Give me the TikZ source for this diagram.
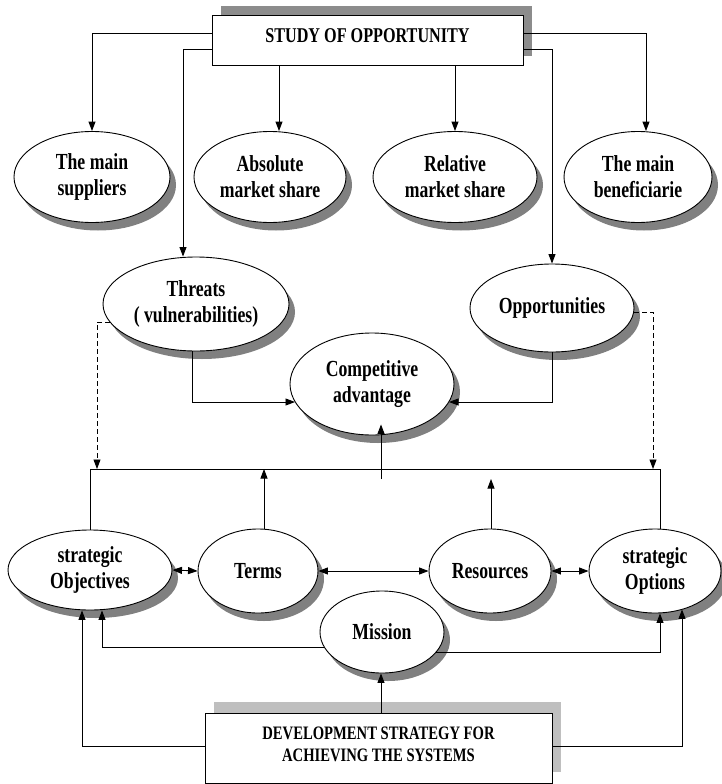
\documentclass[tikz,border=0pt]{standalone}
\usepackage{fontspec}
\setmainfont{Liberation Serif}[FakeStretch=0.77]
\usetikzlibrary{shapes.geometric,arrows.meta,shadows,calc}
\begin{document}
\begin{tikzpicture}[x=1pt,y=-1pt,
  every node/.style={align=center,text=black},
  lab/.style={font=\bfseries\fontsize{23}{26}\selectfont},
  ell/.style={ellipse,draw,line width=0.9pt,fill=white,inner sep=0pt,lab,
    drop shadow={shadow xshift=6pt,shadow yshift=-8pt,fill=black!50,opacity=1}},
  topbox/.style={rectangle,draw,line width=0.9pt,fill=white,
    font=\bfseries\fontsize{21}{24}\selectfont,
    drop shadow={shadow xshift=9pt,shadow yshift=9pt,fill=black!45,opacity=1}},
  botbox/.style={rectangle,draw,line width=0.9pt,fill=white,
    font=\bfseries\fontsize{19}{22}\selectfont,
    drop shadow={shadow xshift=9pt,shadow yshift=11pt,fill=black!25,opacity=1}},
  conn/.style={line width=0.9pt},
  arr/.style={conn,-{Triangle[length=9.5pt,width=7pt]}},
  darr/.style={conn,{Triangle[length=9.5pt,width=7pt]}-{Triangle[length=9.5pt,width=7pt]}},
  dsh/.style={arr,dashed,dash pattern=on 5pt off 3pt}]
\useasboundingbox (0,0) rectangle (721,784);

% boxes
\node[topbox,minimum width=311pt,minimum height=50pt,text depth=8pt] (top) at (367.5,40) {STUDY OF OPPORTUNITY};
\node[botbox,minimum width=347pt,minimum height=70pt,text depth=8pt] (bot) at (378.5,748) {DEVELOPMENT STRATEGY FOR\\ACHIEVING THE SYSTEMS};

% ellipses
\node[ell,minimum width=156pt,minimum height=91pt] (sup) at (92,177) {The main\\suppliers};
\node[ell,minimum width=152pt,minimum height=91pt] (abs) at (270,177) {Absolute\\market share};
\node[ell,minimum width=164pt,minimum height=91pt] (rel) at (455,177) {Relative\\market share};
\node[ell,minimum width=148pt,minimum height=91pt] (ben) at (638,177) {The main\\beneficiarie};
\node[ell,minimum width=186pt,minimum height=94pt] (thr) at (196,304) {Threats\\( vulnerabilities)};
\node[ell,minimum width=164pt,minimum height=88pt] (opp) at (552,308) {Opportunities};
\node[ell,minimum width=164pt,minimum height=102pt] (comp) at (372,384) {Competitive\\advantage};
\node[ell,minimum width=164pt,minimum height=80pt] (obj) at (90,570) {strategic\\Objectives};
\node[ell,minimum width=120pt,minimum height=84pt] (terms) at (258,571) {Terms};
\node[ell,minimum width=122pt,minimum height=84pt] (res) at (490,571) {Resources};
\node[ell,minimum width=132pt,minimum height=84pt] (opt) at (655,571) {strategic\\Options};
\node[ell,minimum width=124pt,minimum height=82pt] (mis) at (382,632) {Mission};

% helper coordinates
\coordinate (yA) at (0,33);
\coordinate (yB) at (0,49);
\coordinate (busy) at (0,469);
\coordinate (thrIn) at ($(thr.north)+(-13,0)$);
\coordinate (absIn) at ($(abs.north)+(9,0)$);
\coordinate (benIn) at ($(ben.north)+(8,0)$);
\coordinate (thrL) at ($(thr.center)+(-86,18)$);
\coordinate (dashL) at (97,469);
\coordinate (oppR) at ($(opp.center)+(82,4)$);
\coordinate (dashR) at (653,469);
\coordinate (thrOut) at ($(thr.south)+(-4,0)$);
\coordinate (compL) at ($(comp.center)+(-77,18)$);
\coordinate (compR) at ($(comp.center)+(77,18)$);
\coordinate (compUpS) at (381,479);
\coordinate (compUpE) at ($(comp.south)+(9,-11)$);
\coordinate (termsTop) at ($(terms.north)+(6,0)$);
\coordinate (resTop) at ($(res.north)+(1,0)$);
\coordinate (resEnd) at (491,479);
\coordinate (optTop) at ($(opt.north)+(5,0)$);
\coordinate (misL) at ($(mis.center)+(-58,15)$);
\coordinate (misR) at ($(mis.center)+(54,20)$);
\coordinate (objIn1) at ($(obj.south)+(12,0)$);
\coordinate (optIn1) at ($(opt.south)+(5,0)$);
\coordinate (objIn2) at ($(obj.south)+(-8,0)$);
\coordinate (optIn2) at ($(opt.south)+(27,-4)$);
\coordinate (yC) at (0,746);
\coordinate (botUp) at ($(bot.north)+(2.5,0)$);
\coordinate (misIn) at ($(mis.south)+(-1,0)$);

% top connectors
\draw[arr] (top.west |- yA) -| (sup.north);
\draw[arr] (top.west |- yB) -| (thrIn);
\draw[arr] (top.south -| absIn) -- (absIn);
\draw[arr] (top.south -| rel.north) -- (rel.north);
\draw[arr] (top.east |- yA) -| (benIn);
\draw[arr] (top.east |- yB) -| (opp.north);

% middle
\draw[dsh] (thrL) -| (dashL);
\draw[dsh] (oppR) -| (dashR);
\draw[arr] (thrOut) |- (compL);
\draw[arr] (opp.south) |- (compR);
\draw[arr] (compUpS) -- (compUpE);

% bus
\draw[conn] (obj.north) -- (obj.north |- busy) -- (optTop |- busy) -- (optTop);
\draw[arr] (termsTop) -- (termsTop |- busy);
\draw[arr] (resTop) -- (resEnd);

% double arrows
\draw[darr] (obj.east) -- (terms.west);
\draw[darr] (terms.east) -- (res.west);
\draw[darr] (res.east) -- (opt.west);

% mission
\draw[arr] (misL) -| (objIn1);
\draw[arr] (misR) -| (optIn1);
\draw[arr] (botUp) -- (misIn);

% bottom box
\draw[arr] (bot.west |- yC) -| (objIn2);
\draw[arr] (bot.east |- yC) -| (optIn2);
\end{tikzpicture}
\end{document}
